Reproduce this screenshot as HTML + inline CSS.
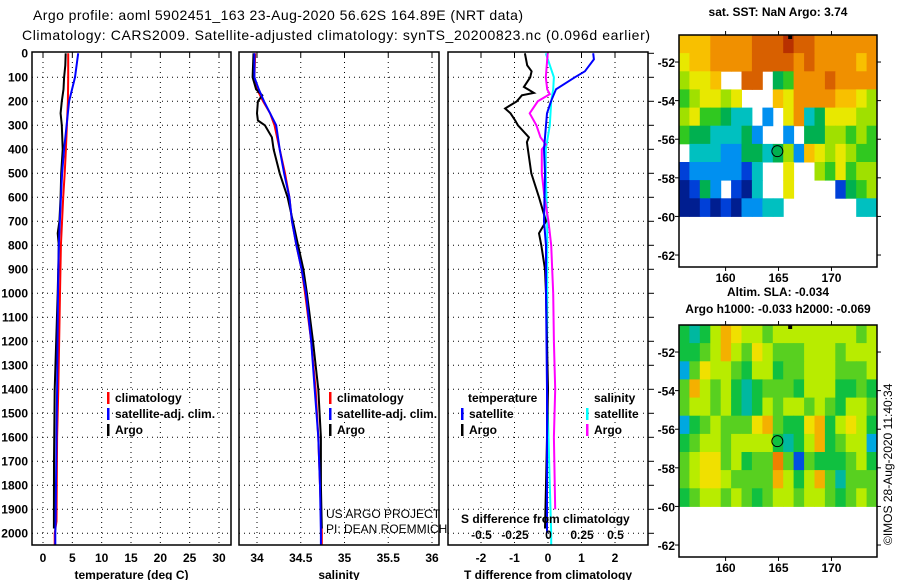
<!DOCTYPE html>
<html><head><meta charset="utf-8">
<style>
html,body{margin:0;padding:0;background:#fff;}
svg{display:block;font-family:"Liberation Sans",sans-serif;}
.b{font-weight:bold;font-size:12px;}
</style></head>
<body>
<svg id="chart" width="900" height="580" viewBox="0 0 900 580" xmlns="http://www.w3.org/2000/svg">
<text x="278" y="20" text-anchor="middle" font-size="14" textLength="490">Argo profile: aoml 5902451_163 23-Aug-2020 56.62S 164.89E (NRT data)</text>
<text x="22" y="40" font-size="14" textLength="628">Climatology: CARS2009. Satellite-adjusted climatology: synTS_20200823.nc (0.096d earlier)</text>
<g id="panels"></g>
<g id="maps"></g>
<text transform="translate(892,545) rotate(-90)" font-size="12">©IMOS 28-Aug-2020 11:40:34</text>
</svg>
<script>
// ---------- profile data ----------
const tDepth = [0,50,100,150,200,250,300,400,500,600,700,750,800,1000,1400,1700,1980];
const tArgo  = [3.87,3.8,3.6,3.5,3.2,3.0,3.2,3.35,3.1,3.0,2.8,2.5,2.7,2.5,2.0,1.87,1.85];
const cDepth = [0,100,200,400,500,600,800,1000,1400,1600,1950,2000,2050];
const tClim  = [4.3,4.3,4.25,3.9,3.7,3.45,3.05,2.9,2.6,2.4,2.3,2.0,2.0];
const tSat   = [6.0,5.45,4.45,3.6,3.25,3.05,2.7,2.55,2.4,2.3,2.15,2.1,2.1];
const sDepth = [0,100,150,175,200,250,280,300,350,400,500,600,700,800,900,1000,1200,1400,1600,1800,1980];
const sArgo  = [33.96,33.95,33.99,34.06,34.01,34.0,34.01,34.09,34.17,34.19,34.26,34.35,34.41,34.47,34.53,34.57,34.64,34.70,34.73,34.73,34.74];
const scDepth= [0,100,150,200,250,300,400,500,600,700,800,900,1000,1200,1400,1600,1800,2000,2050];
const sClim  = [33.98,33.97,34.0,34.07,34.15,34.2,34.26,34.32,34.37,34.4,34.45,34.51,34.55,34.62,34.67,34.7,34.72,34.74,34.74];
const sSat   = [33.97,33.97,34.02,34.08,34.15,34.22,34.26,34.31,34.37,34.4,34.45,34.51,34.56,34.62,34.66,34.7,34.72,34.73,34.73];
const dDepth = [0,50,75,100,140,165,175,200,230,250,280,300,350,370,400,500,600,700,750,800,900,1000,1400,1800,1980];
const dTArgo = [-0.69,-0.62,-0.49,-0.53,-0.72,-0.42,-0.78,-0.93,-1.28,-1.12,-0.98,-0.9,-0.57,-0.63,-0.6,-0.5,-0.27,-0.06,-0.27,-0.2,-0.09,-0.06,0,-0.06,-0.09];
const ddDepth= [0,25,75,100,150,200,250,300,400,500,700,800,1000,1400,2000];
const dTSat  = [1.35,1.37,1.1,0.8,0.24,0.09,-0.03,-0.06,-0.12,-0.09,-0.12,-0.06,-0.06,-0.03,-0.03];
const sdDepth= [0,100,150,170,200,250,300,350,380,400,500,600,700,800,1000,1200,1400,1600,1900];
const dSArgo = [-0.006,-0.02,-0.01,0.01,-0.08,-0.14,-0.09,-0.06,-0.02,-0.05,-0.05,-0.03,0.0,0.02,0.035,0.04,0.05,0.04,0.05];
const dSSat  = [-0.02,0.04,0.035,0.02,0.01,-0.02,-0.02,-0.01,-0.01,-0.01,0.01,0.02,0.02,0.02,0.02];
const dSSatDepth=[0,100,150,200,300,400,500,700,1000,1400,1800,2000,2030,2040,2050];
const depthTicks=[0,100,200,300,400,500,600,700,800,900,1000,1100,1200,1300,1400,1500,1600,1700,1800,1900,2000];
const tempTicks=[0,5,10,15,20,25,30];
const salTicks=[34,34.5,35,35.5,36];
const tdTicks=[-2,-1,0,1,2];
const sdTicks=[-0.5,-0.25,0,0.25,0.5];
const sdTickLabels=['-0.5','-0.25','0','0.25','0.5'];

// ---------- map data (1° lon columns, lat rows) ----------
const sstRows=[
"8889999AAABAA999999",
"7889999AAAA9A999989",
"6778..AA.45999A9999",
"567767...8799998876",
"6755433.2.793477766",
"54433342..2.4466565",
".333224434628767655",
"12222213..7..657566",
"0142.103..7....1456",
"0010102233.......33"];
const slaRows=[
"4346876656666666656",
"4456865765556665666",
"2576654664556665556",
"5865643455546664454",
"5665643465665654665",
"2456555785447846764",
"4566566664346845662",
"5677564559515444564",
"5677655558646853555",
"4566565456656654565"];
const lonTicks=[160,165,170];
const latTicks=[-52,-54,-56,-58,-60,-62];
const argoPos=[164.89,-56.62];

const NS="http://www.w3.org/2000/svg";
function mk(tag,attrs,parent,txt){const e=document.createElementNS(NS,tag);for(const k in attrs)e.setAttribute(k,attrs[k]);if(txt!==undefined)e.textContent=txt;parent.appendChild(e);return e;}

const Y0=53.3, KY=0.24, PT=52, PB=545;
const yD=d=>Y0+d*KY;
const xT=t=>43+t*(176/30);
const xS=s=>257+(s-34)*87.5;
const xTD=d=>548+d*33.5;
const xSD=d=>548.5+d*134;

const P=document.getElementById('panels');
const panels=[
 {name:'temperature-panel',x0:32,x1:231,grid:tempTicks.map(xT),labels:tempTicks.map(String),lx:tempTicks.map(xT),xlabel:'temperature (deg C)'},
 {name:'salinity-panel',x0:239,x1:439,grid:salTicks.map(xS),labels:salTicks.map(String),lx:salTicks.map(xS),xlabel:'salinity'},
 {name:'difference-panel',x0:448,x1:648,grid:tdTicks.map(xTD),labels:tdTicks.map(String),lx:tdTicks.map(xTD),xlabel:'T difference from climatology'}
];
panels.forEach(p=>{
 const g=mk('g',{},P);
 
 
 p.grid.forEach(gx=>{ if(gx>p.x0+2&&gx<p.x1-2){
   const l=mk('line',{x1:gx,x2:gx,y1:PT,y2:PB,stroke:'#000','stroke-width':1,'stroke-dasharray':'1,4'},g);
   
   mk('line',{x1:gx,x2:gx,y1:PT,y2:PT+5,stroke:'#000'},g);
 }});
 depthTicks.forEach(d=>{ if(d>0){
   const l=mk('line',{x1:p.x0,x2:p.x1,y1:yD(d),y2:yD(d),stroke:'#000','stroke-width':1,'stroke-dasharray':'1,4'},g);
   
 }});
 p.labels.forEach((t,i)=>{
   const e=mk('text',{x:p.lx[i],y:562,'text-anchor':'middle',class:'b'},g,t);
   
 });
 const xl=mk('text',{x:(p.x0+p.x1)/2,y:579,'text-anchor':'middle',class:'b'},g,p.xlabel);
 
});
depthTicks.forEach(d=>{
 const e=mk('text',{x:28,y:yD(d)+4,'text-anchor':'end',class:'b'},P,String(d));
 
 mk('line',{x1:648,x2:654,y1:yD(d),y2:yD(d),stroke:'#000'},P);
});
function series(xs,ds,fx,color,name,w){
 const pts=xs.map((v,i)=>fx(v).toFixed(1)+','+yD(ds[i]).toFixed(1)).join(' ');
 const e=mk('polyline',{points:pts,fill:'none',stroke:color,'stroke-width':w||2},P);
 
}
series(tClim,cDepth,xT,'#f00','temp-climatology-line');
series(tArgo,tDepth,xT,'#000','temp-argo-line');
series(tSat,cDepth,xT,'#00f','temp-satellite-line');
series(sClim,scDepth,xS,'#f00','sal-climatology-line');
series(sArgo,sDepth,xS,'#000','sal-argo-line');
series(sSat,scDepth,xS,'#00f','sal-satellite-line');
series(dSSat,dSSatDepth,xSD,'#0ff','sdiff-satellite-line');
series(dTArgo,dDepth,xTD,'#000','tdiff-argo-line');
series(dSArgo,sdDepth,xSD,'#f0f','sdiff-argo-line');
series(dTSat,ddDepth,xTD,'#00f','tdiff-satellite-line');
panels.forEach(p=>{const r=mk('rect',{x:p.x0,y:PT,width:p.x1-p.x0,height:PB-PT,fill:'none',stroke:'#000','stroke-width':1.5},P);
 });

function legend(x,y,color,label,nm){
 const g=mk('g',{},P);
 
 const t=mk('text',{x:x+5,y:y,class:'b'},g,label);
 let w=label.length*6.2;
 try{w=t.getComputedTextLength()+2;}catch(e){}
 const r=mk('rect',{x:x+4,y:y-11,width:w,height:14,fill:'#fff'},g);
 g.insertBefore(r,t);
 mk('rect',{x:x-3,y:y-10,width:2.5,height:12,fill:color},g);
}
legend(110,402,'#f00','climatology','legend-climatology-temp');
legend(110,418,'#00f','satellite-adj. clim.','legend-satellite-temp');
legend(110,434,'#000','Argo','legend-argo-temp');
legend(332,402,'#f00','climatology','legend-climatology-sal');
legend(332,418,'#00f','satellite-adj. clim.','legend-satellite-sal');
legend(332,434,'#000','Argo','legend-argo-sal');
{const t=mk('text',{x:468,y:402,class:'b'},P,'temperature');
 const s=mk('text',{x:594,y:402,class:'b'},P,'salinity');}
legend(464,418,'#00f','satellite','legend-tdiff-satellite');
legend(464,434,'#000','Argo','legend-tdiff-argo');
legend(589,418,'#0ff','satellite','legend-sdiff-satellite');
legend(589,434,'#f0f','Argo','legend-sdiff-argo');
{const a=mk('text',{x:326,y:518,'font-size':12},P,'US ARGO PROJECT');
 const b=mk('text',{x:326,y:533,'font-size':12},P,'PI: DEAN ROEMMICH');
 const c=mk('text',{x:461,y:523,class:'b'},P,'S difference from climatology');}
sdTicks.forEach((v,i)=>{const e=mk('text',{x:xSD(v),y:539,'text-anchor':'middle',class:'b'},P,sdTickLabels[i]);
 });

// ---------- maps ----------
const M=document.getElementById('maps');
const LON0=155.6,LON1=174.3,LAT0=-50.6,LATD=-60;
const pal={'0':'#001e90','1':'#0040d8','2':'#0090f0','3':'#00c0c0','4':'#00b050','5':'#30c820','6':'#a0e000','7':'#e8e800','8':'#f8c000','9':'#f09000','A':'#d86000','B':'#b83000'};
const slaPal={'1':'#0050e0','2':'#00a8e0','3':'#00b8a0','4':'#10c040','5':'#58d020','6':'#b8ec00','7':'#f0e000','8':'#f4b000','9':'#f08000'};
function drawMap(top,rows,palette,name,title,titleY){
 const g=mk('g',{},M);
 
 const left=679,right=877,bot=top+232;
 const xL=l=>left+(l-LON0)*(right-left)/(LON1-LON0);
 const yL=a=>top+(LAT0-a)*19.3;
 const nc=rows[0].length, nr=rows.length;
 const cw=(LON1-LON0)/nc, rh=(LAT0-LATD)/nr;
 rows.forEach((r,i)=>{[...r].forEach((ch,j)=>{ if(palette[ch]){
   const x0=xL(LON0+j*cw), x1=xL(LON0+(j+1)*cw), y0=yL(LAT0-i*rh), y1=yL(LAT0-(i+1)*rh);
   const c=mk('rect',{x:x0.toFixed(1),y:y0.toFixed(1),width:(x1-x0+0.5).toFixed(1),height:(y1-y0+0.5).toFixed(1),fill:palette[ch]},g);
   
 }});});
 mk('rect',{x:left,y:top,width:right-left,height:bot-top,fill:'none',stroke:'#000','stroke-width':1.5},g);
 latTicks.forEach(a=>{const y=yL(a);
  mk('line',{x1:left-4,x2:left,y1:y,y2:y,stroke:'#000'},g);mk('line',{x1:right,x2:right+4,y1:y,y2:y,stroke:'#000'},g);
  const t=mk('text',{x:left-4,y:y+5,'text-anchor':'end',class:'b'},g,String(a));
  });
 lonTicks.forEach(l=>{const x=xL(l);
  mk('line',{x1:x,x2:x,y1:top-4,y2:top,stroke:'#000'},g);mk('line',{x1:x,x2:x,y1:bot,y2:bot+4,stroke:'#000'},g);
  const t=mk('text',{x:x,y:bot+15,'text-anchor':'middle',class:'b'},g,String(l));
  });
 const c=mk('circle',{cx:xL(argoPos[0]),cy:yL(argoPos[1]),r:5.5,fill:'none',stroke:'#000','stroke-width':1},g);
 
 mk('rect',{x:xL(166.1)-2,y:top,width:4,height:4,fill:'#000'},g);
 const tt=mk('text',{x:778,y:titleY,'text-anchor':'middle',class:'b'},g,title);
 
}
drawMap(35,sstRows,pal,'sst-map','sat. SST: NaN Argo: 3.74',16);
drawMap(325,slaRows,slaPal,'sla-map','Argo h1000: -0.033 h2000: -0.069',313);
{const t=mk('text',{x:778,y:296,'text-anchor':'middle',class:'b'},M,'Altim. SLA: -0.034');
 }
</script>
</body></html>
